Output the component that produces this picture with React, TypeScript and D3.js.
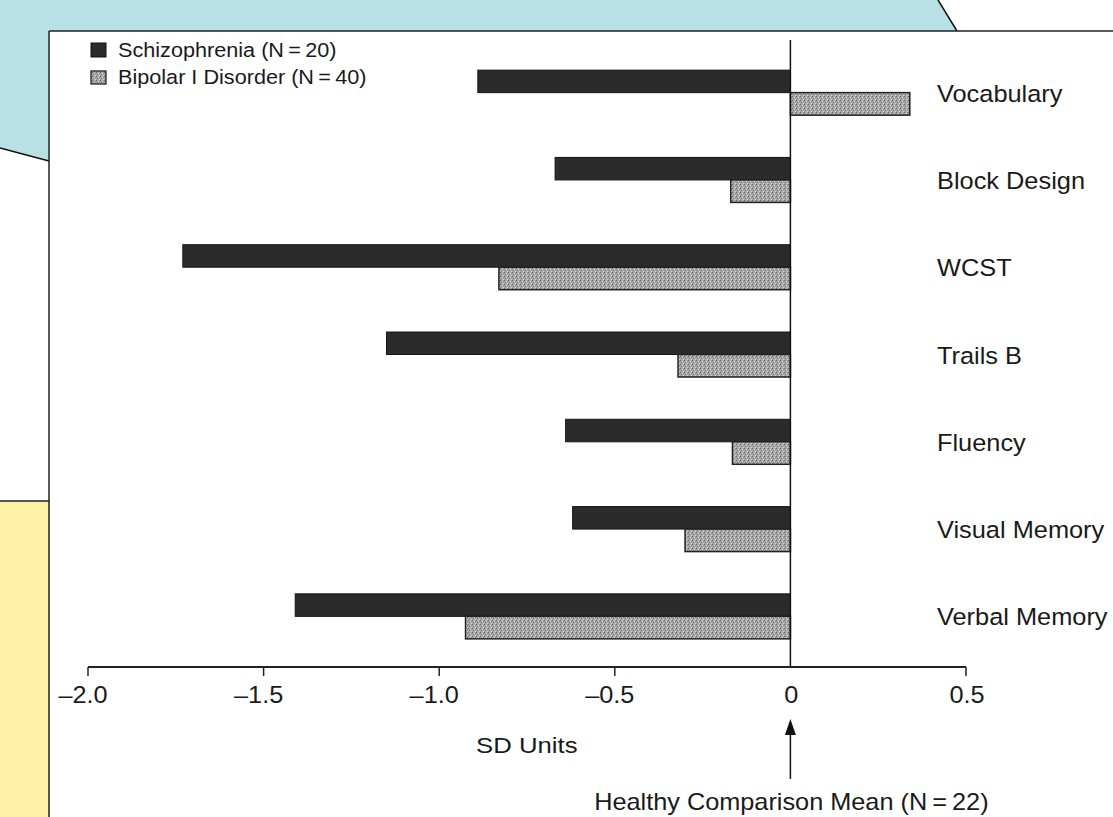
import React from "react";
import * as d3 from "d3";

const categories = ["Vocabulary", "Block Design", "WCST", "Trails B", "Fluency", "Visual Memory", "Verbal Memory"];
const schizophrenia = [-0.89, -0.67, -1.73, -1.15, -0.64, -0.62, -1.41];
const bipolar = [0.34, -0.17, -0.83, -0.32, -0.165, -0.30, -0.925];
const seriesNames = ["Schizophrenia (N\u2009=\u200920)", "Bipolar I Disorder (N\u2009=\u200940)"];
const ticks = [-2.0, -1.5, -1.0, -0.5, 0, 0.5];
const tickLabels = ["\u20132.0", "\u20131.5", "\u20131.0", "\u20130.5", "0", "0.5"];

const W = 1113;
const H = 817;
const FONT = "'Liberation Sans', Arial, Helvetica, sans-serif";

export default function App() {
  const x = d3.scaleLinear().domain([-2, 0.5]).range([88, 966]);
  const y = d3.scaleBand<string>().domain(categories).range([49, 660]);
  const barH = 22.5;
  const x0 = x(0);
  const axisY = 667;

  const darkFill = "#2b2b2b";

  return (
    <svg width={W} height={H} style={{ position: "absolute", left: 0, top: 0, background: "#fff" }}>
      <defs>
        <pattern id="stipple" width="4" height="4" patternUnits="userSpaceOnUse">
          <rect width="4" height="4" fill="#a8a8a8" />
          <rect x="0" y="0" width="1" height="1" fill="#666" />
          <rect x="2" y="1" width="1" height="1" fill="#dcdcdc" />
          <rect x="1" y="2" width="1" height="1" fill="#777" />
          <rect x="3" y="3" width="1" height="1" fill="#d2d2d2" />
          <rect x="3" y="1" width="1" height="1" fill="#858585" />
        </pattern>
      </defs>

      {/* slide background */}
      <polygon points="0,0 938,0 957,31 49,31 49,161 0,148" fill="#b9e0e4" />
      <line x1={938} y1={0} x2={957} y2={31} stroke="#111" strokeWidth={1.5} />
      <line x1={0} y1={148} x2={49} y2={161} stroke="#111" strokeWidth={1.5} />
      <rect x={0} y={501} width={49} height={H - 501} fill="#fff0a6" />
      <line x1={0} y1={501} x2={49} y2={501} stroke="#222" strokeWidth={1.5} />
      {/* scan border */}
      <line x1={49} y1={31} x2={W} y2={31} stroke="#222" strokeWidth={1.5} />
      <line x1={49} y1={31} x2={49} y2={H} stroke="#222" strokeWidth={1.5} />

      {/* legend */}
      <g fontFamily={FONT} fill="#1a1a1a">
        <rect x={91} y={43} width={15} height={14} fill={darkFill} stroke="#111" strokeWidth={1} />
        <rect x={91} y={71} width={15} height={13} fill="url(#stipple)" stroke="#222" strokeWidth={1.3} />
        <text transform="translate(118,57) scale(1.11,1)" fontSize={19.5}>{seriesNames[0]}</text>
        <text transform="translate(118,84) scale(1.11,1)" fontSize={19.5}>{seriesNames[1]}</text>
      </g>

      {/* bars */}
      {categories.map((c, i) => {
        const yc = (y(c) as number) + y.bandwidth() / 2;
        const s = schizophrenia[i];
        const b = bipolar[i];
        return (
          <g key={c}>
            <rect
              x={Math.min(x(s), x0)}
              y={yc - barH}
              width={Math.abs(x(s) - x0)}
              height={barH}
              fill={darkFill}
              stroke="#151515"
              strokeWidth={1}
            />
            <rect
              x={Math.min(x(b), x0)}
              y={yc}
              width={Math.abs(x(b) - x0)}
              height={barH}
              fill="url(#stipple)"
              stroke="#222"
              strokeWidth={1.5}
            />
            <text
              transform={`translate(937,${yc + 9}) scale(1.08,1)`}
              fontFamily={FONT}
              fontSize={23.5}
              fill="#1a1a1a"
            >
              {c}
            </text>
          </g>
        );
      })}

      {/* zero line */}
      <line x1={x0} y1={40} x2={x0} y2={axisY} stroke="#111" strokeWidth={1.5} />

      {/* x axis */}
      <line x1={x(-2)} y1={axisY} x2={x(0.5)} y2={axisY} stroke="#222" strokeWidth={2} />
      {ticks.map((t, i) => (
        <g key={t}>
          {t !== 0 && <line x1={x(t)} y1={axisY} x2={x(t)} y2={axisY + 9} stroke="#222" strokeWidth={1.5} />}
          <text
            transform={`translate(${x(t) + (t < 0 ? -5 : 1)},703) scale(1.1,1)`}
            textAnchor="middle"
            fontFamily={FONT}
            fontSize={23}
            fill="#1a1a1a"
          >
            {tickLabels[i]}
          </text>
        </g>
      ))}

      <text transform="translate(476,753) scale(1.12,1)" fontFamily={FONT} fontSize={23} fill="#1a1a1a">
        SD Units
      </text>

      {/* arrow */}
      <line x1={x0} y1={779} x2={x0} y2={733} stroke="#111" strokeWidth={1.5} />
      <path d={`M${x0},719 L${x0 - 5.5},735 L${x0 + 5.5},735 Z`} fill="#111" />

      <text
        transform={`translate(${x0 + 1},810) scale(1.1,1)`}
        textAnchor="middle"
        fontFamily={FONT}
        fontSize={23}
        fill="#1a1a1a"
      >
        Healthy Comparison Mean (N{"\u2009"}={"\u2009"}22)
      </text>
    </svg>
  );
}
